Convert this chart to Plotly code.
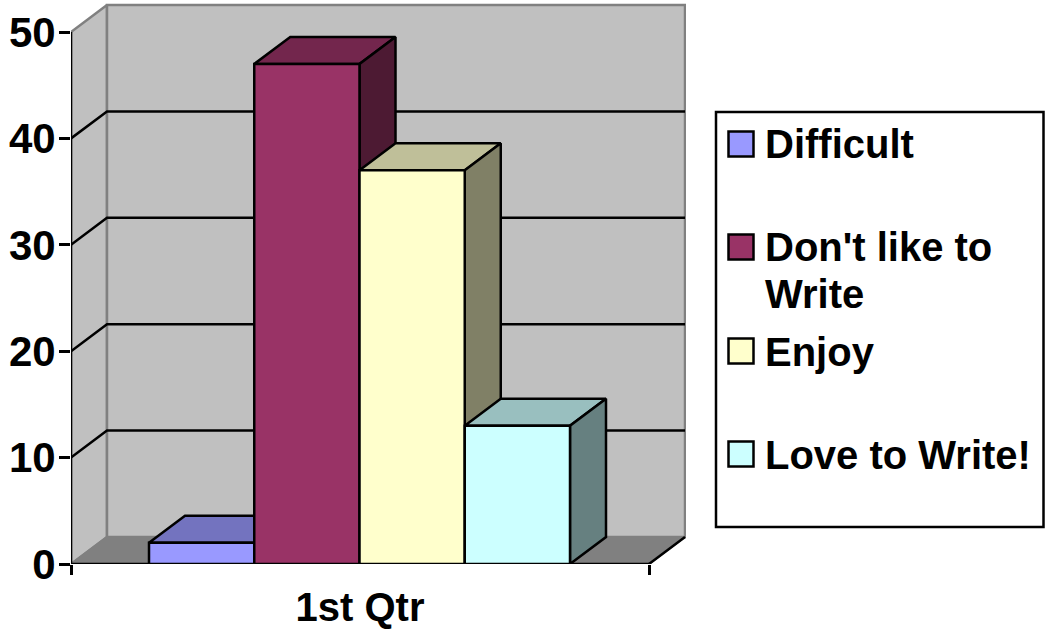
import plotly.graph_objects as go

categories = ["1st Qtr"]
series_names = ["Difficult", "Don't like to Write", "Enjoy", "Love to Write!"]
series_values = [2, 47, 37, 13]
front_colors = ["#9999FF", "#993366", "#FFFFCC", "#CCFFFF"]
top_colors = ["#7373BF", "#73264D", "#BFBF99", "#99BFBF"]
side_colors = ["#4D4D80", "#4D1A33", "#808066", "#668080"]
y_ticks = [0, 10, 20, 30, 40, 50]
grid_values = [10, 20, 30, 40]

# layout geometry: pixels of the page
W, H = 1045, 635
L, R, T, B = 71, 686, 3, 564
PX_PER_X = 578.0
PX_PER_Y = 10.64
DX = 36 / PX_PER_X
DY = 27 / PX_PER_Y
GAP = 78 / PX_PER_X
BAR_W = 105.25 / PX_PER_X
INK = "#000000"
WALL = "#C0C0C0"
EDGE = "#808080"
FONT = "Liberation Sans"
LW = 2.5

fig = go.Figure()


def poly(xs, ys, fill=None, line=INK, width=LW):
    fig.add_trace(go.Scatter(
        x=xs, y=ys, mode="lines", cliponaxis=False, showlegend=False, hoverinfo="skip",
        fill="toself" if fill else None, fillcolor=fill,
        line=dict(color=line, width=width, simplify=False),
    ))


ymax = y_ticks[-1]
# walls and floor
poly([0, DX, DX, 0, 0], [0, DY, ymax + DY, ymax, 0], WALL, EDGE, 2.5)
poly([DX, 1 + DX, 1 + DX, DX, DX], [DY, DY, ymax + DY, ymax + DY, DY], WALL, EDGE, 2.5)
poly([0, 1, 1 + DX, DX, 0], [0, 0, DY, DY, 0], EDGE, EDGE, 2)
# grid lines
for g in grid_values:
    poly([0, DX, 1 + DX], [g, g + DY, g + DY])
# outer edges of the floor and axis lines
poly([1, 1 + DX], [0, DY])
poly([0, 0], [0, ymax])
poly([0, 1], [0, 0])

# bars
for i, v in enumerate(series_values):
    x0 = GAP + i * BAR_W
    x1 = x0 + BAR_W
    poly([x0, x0 + DX, x1 + DX, x1, x0], [v, v + DY, v + DY, v, v], top_colors[i])
    poly([x1, x1 + DX, x1 + DX, x1, x1], [0, DY, v + DY, v, 0], side_colors[i])
    poly([x0, x1, x1, x0, x0], [0, 0, v, v, 0], front_colors[i])


def px(x):
    return (x - L) / (R - L)


def py(y):
    return (B - y) / (B - T)


# legend box
shapes = [dict(type="rect", xref="paper", yref="paper", x0=px(716), x1=px(1043.5), y0=py(527), y1=py(112),
               line=dict(color=INK, width=LW), fillcolor="#FFFFFF", layer="above")]
annotations = []
legend_rows = [(144, ["Difficult"]), (247, ["Don't like to", "Write"]), (351, ["Enjoy"]), (454, ["Love to Write!"])]
for (yc, lines), col in zip(legend_rows, front_colors):
    shapes.append(dict(type="rect", xref="paper", yref="paper", x0=px(728.5), x1=px(753.5), y0=py(yc + 12.5), y1=py(yc - 12.5),
                       line=dict(color=INK, width=LW), fillcolor=col, layer="above"))
    for k, t in enumerate(lines):
        annotations.append(dict(xref="paper", yref="paper", x=px(763), y=py(yc + 0.5 + k * 46), text=t, showarrow=False,
                                xanchor="left", yanchor="middle",
                                font=dict(family=FONT, size=40, color=INK, weight=700)))

fig.update_layout(
    width=W, height=H,
    margin=dict(l=L, r=W - R, t=T, b=H - B, pad=0, autoexpand=False),
    paper_bgcolor="#FFFFFF", plot_bgcolor="#FFFFFF", showlegend=False,
    shapes=shapes, annotations=annotations,
    xaxis=dict(range=[0, (R - L) / PX_PER_X], showgrid=False, zeroline=False, showline=False,
               tickmode="array", tickvals=[0.5], ticktext=categories, ticks="", ticklen=0,
               ticklabelstandoff=16,
               tickfont=dict(family=FONT, size=40, color=INK, weight=700),
               minor=dict(tickmode="array", tickvals=[0, 1], ticks="outside", ticklen=10, tickwidth=LW, tickcolor=INK)),
    yaxis=dict(range=[0, (B - T) / PX_PER_Y], showgrid=False, zeroline=False, showline=False,
               tickmode="array", tickvals=y_ticks, ticks="outside", ticklen=11, tickwidth=LW, tickcolor=INK,
               ticklabelstandoff=-5,
               tickfont=dict(family=FONT, size=42, color=INK, weight=700)),
)
fig.write_html("out.html", config={"displayModeBar": False},
               post_script="document.body.style.margin='0';document.body.style.overflow='hidden';")
